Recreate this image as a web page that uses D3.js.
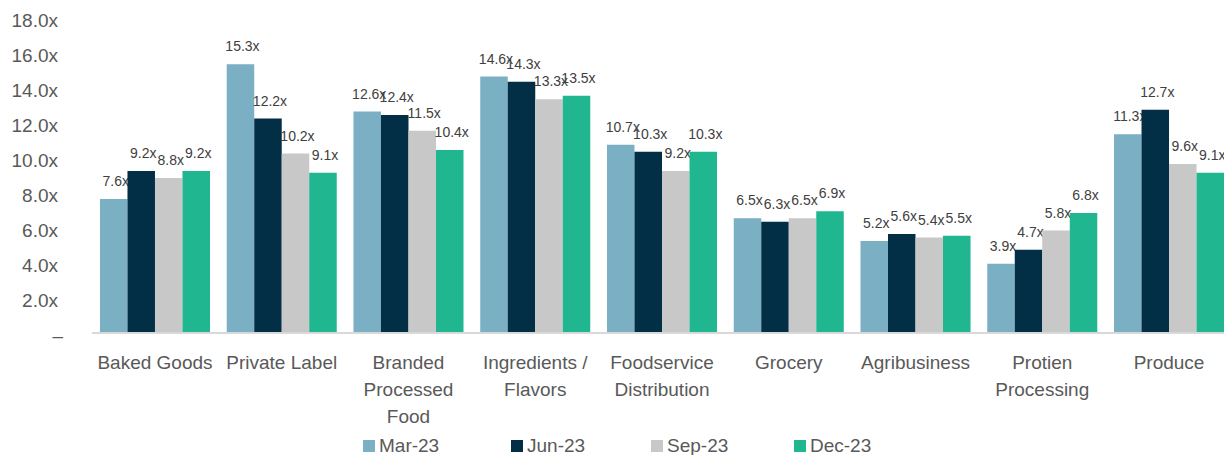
<!DOCTYPE html>
<html>
<head>
<meta charset="utf-8">
<style>
  body { margin: 0; background: #fff; }
  svg { display: block; font-family: "Liberation Sans", Arial, sans-serif; }
</style>
</head>
<body>
<svg id="chart"></svg>
<script src="https://d3js.org/d3.v7.min.js"></script>
<script>
const categories = ["Baked Goods", "Private Label", "Branded Processed Food", "Ingredients / Flavors",
  "Foodservice Distribution", "Grocery", "Agribusiness", "Protien Processing", "Produce"];
const periods = ["Mar-23", "Jun-23", "Sep-23", "Dec-23"];
const mar23 = [7.6, 15.3, 12.6, 14.6, 10.7, 6.5, 5.2, 3.9, 11.3];
const jun23 = [9.2, 12.2, 12.4, 14.3, 10.3, 6.3, 5.6, 4.7, 12.7];
const sep23 = [8.8, 10.2, 11.5, 13.3, 9.2, 6.5, 5.4, 5.8, 9.6];
const dec23 = [9.2, 9.1, 10.4, 13.5, 10.3, 6.9, 5.5, 6.8, 9.1];
const yTicks = [0, 2, 4, 6, 8, 10, 12, 14, 16, 18];

const series = [mar23, jun23, sep23, dec23];
const colors = ["#7bafc4", "#022f46", "#c8c8c8", "#20b68f"];

const width = 1224, height = 455;
const svg = d3.select("#chart").attr("width", width).attr("height", height);

const x0 = d3.scaleBand().domain(categories)
    .range([91.6, 1232.4]).paddingInner(0.132).paddingOuter(0.066);
const x1 = d3.scaleBand().domain(periods).range([0, x0.bandwidth()]);
const y = d3.scaleLinear().domain([0, 18]).range([332, 17]);

// y axis labels
const yAxis = svg.append("g")
    .attr("transform", "translate(66,0)")
    .call(d3.axisLeft(y).tickValues(yTicks).tickSize(0).tickPadding(8)
      .tickFormat(d => d === 0 ? "–" : d.toFixed(1) + "x"));
yAxis.select(".domain").remove();
yAxis.selectAll("text")
    .attr("font-size", 19).attr("fill", "#595959")
    .attr("font-family", "Liberation Sans, Arial, sans-serif")
    .attr("dy", "0.5em");
yAxis.selectAll(".tick").filter(d => d === 0).select("text").attr("x", -3);

// bars
const groups = svg.append("g").selectAll("g")
    .data(categories)
    .join("g")
    .attr("transform", d => `translate(${x0(d)},0)`);

const cells = groups.selectAll("g")
    .data((c, i) => periods.map((p, j) => ({ period: p, value: series[j][i], color: colors[j] })))
    .join("g");

cells.append("rect")
    .attr("x", d => x1(d.period))
    .attr("width", x1.bandwidth())
    .attr("y", d => y(d.value))
    .attr("height", d => y(0) - y(d.value))
    .attr("fill", d => d.color);

cells.append("text")
    .attr("x", d => x1(d.period) + x1.bandwidth() / 2 + 2)
    .attr("y", d => y(d.value) - 13)
    .attr("text-anchor", "middle")
    .attr("font-size", 14)
    .attr("fill", "#404040")
    .text(d => d.value.toFixed(1) + "x");

// baseline
svg.append("line")
    .attr("x1", 92).attr("x2", width)
    .attr("y1", y(0) + 1).attr("y2", y(0) + 1)
    .attr("stroke", "#d9d9d9").attr("stroke-width", 2);

// category labels, wrapped to the band step
const ctx = document.createElement("canvas").getContext("2d");
ctx.font = "19px Liberation Sans";
function wrap(label, maxW) {
  const words = label.split(" ");
  const lines = [];
  let line = "";
  words.forEach(w => {
    const test = line ? line + " " + w : w;
    if (line && ctx.measureText(test).width > maxW) {
      lines.push(line);
      line = w;
    } else {
      line = test;
    }
  });
  lines.push(line);
  return lines;
}

svg.append("g").selectAll("text")
    .data(categories)
    .join("text")
    .attr("x", d => x0(d) + x0.bandwidth() / 2)
    .attr("y", 369)
    .attr("text-anchor", "middle")
    .attr("font-size", 19)
    .attr("fill", "#595959")
    .each(function (d) {
      d3.select(this).selectAll("tspan")
        .data(wrap(d, x0.step() - 4))
        .join("tspan")
        .attr("x", x0(d) + x0.bandwidth() / 2)
        .attr("dy", (l, i) => i === 0 ? 0 : 27)
        .text(l => l);
    });

// legend
const legendX = [363, 511, 651, 794];
const legend = svg.append("g").selectAll("g")
    .data(periods)
    .join("g")
    .attr("transform", (d, i) => `translate(${legendX[i]},440)`);
legend.append("rect")
    .attr("width", 12).attr("height", 12)
    .attr("fill", (d, i) => colors[i]);
legend.append("text")
    .attr("x", 16).attr("y", 12)
    .attr("font-size", 19)
    .attr("fill", "#595959")
    .text(d => d);
</script>
</body>
</html>
